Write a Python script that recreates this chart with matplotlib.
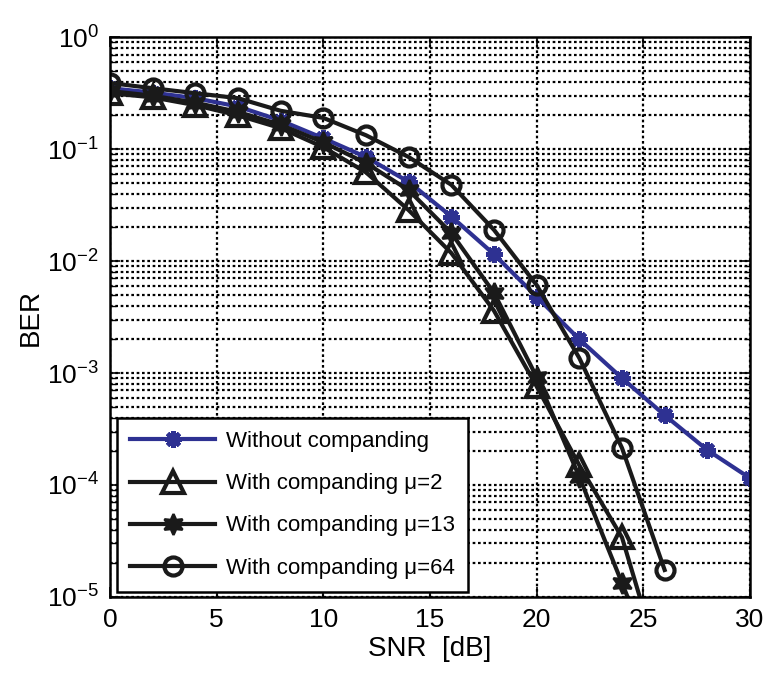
import matplotlib.pyplot as plt
from matplotlib.ticker import LogLocator, NullFormatter
import numpy as np

plt.rcParams['font.family'] = ['Liberation Sans', 'DejaVu Sans']
plt.rcParams['mathtext.default'] = 'regular'
plt.rcParams['axes.unicode_minus'] = False
plt.rcParams['font.size'] = 18

# SNR points (dB)
snr = [0, 2, 4, 6, 8, 10, 12, 14, 16, 18, 20, 22, 24, 26, 28, 30]
snr_mu = [0, 2, 4, 6, 8, 10, 12, 14, 16, 18, 20, 22, 24, 26]

# BER values
ber_none = [0.35, 0.32, 0.285, 0.24, 0.18, 0.125, 0.085, 0.051, 0.025, 0.0115,
            0.0048, 0.0020, 9.0e-4, 4.2e-4, 2.05e-4, 1.15e-4]
ber_mu2 = [0.316, 0.29, 0.247, 0.20, 0.154, 0.104, 0.062, 0.0285, 0.0118, 0.0036,
           7.6e-4, 1.5e-4, 3.4e-5, 1.8e-6]
ber_mu13 = [0.33, 0.30, 0.26, 0.215, 0.165, 0.115, 0.075, 0.043, 0.0178, 0.0052,
            9.2e-4, 1.18e-4, 1.33e-5, 1.5e-6]
ber_mu64 = [0.39, 0.35, 0.316, 0.285, 0.22, 0.19, 0.133, 0.085, 0.048, 0.019,
            0.0061, 0.00136, 2.14e-4, 1.74e-5]

fig = plt.figure(figsize=(7.66, 6.76), dpi=100)
ax = fig.add_axes([0.1436, 0.117, 0.8355, 0.828])

blue = '#2E3192'
dark = '#1a1a1a'
ax.semilogy(snr, ber_none, color=blue, lw=3, marker=(8, 2, 0), ms=12, mew=3.2,
            label='Without companding')
ax.semilogy(snr_mu, ber_mu2, color=dark, lw=3, marker='^', ms=16, mew=3,
            mfc='none', label='With companding \u03bc=2')
ax.semilogy(snr_mu, ber_mu13, color=dark, lw=3, marker=(6, 1, 0), ms=15, mew=1.8,
            mfc=dark, label='With companding \u03bc=13')
ax.semilogy(snr_mu, ber_mu64, color=dark, lw=3, marker='o', ms=13, mew=3,
            mfc='none', label='With companding \u03bc=64')

ax.set_xlim(0, 30)
ax.set_ylim(1e-5, 1)
ax.set_xticks([0, 5, 10, 15, 20, 25, 30])
ax.yaxis.set_major_locator(LogLocator(base=10, numticks=10))
ax.yaxis.set_minor_locator(LogLocator(base=10, subs=np.arange(2, 10), numticks=20))
ax.yaxis.set_minor_formatter(NullFormatter())

ax.grid(True, which='major', color='black', linestyle=(0, (1.2, 1.2)), linewidth=1.6)
ax.grid(True, which='minor', axis='y', color='black', linestyle=(0, (1.2, 1.2)), linewidth=1.6)
ax.tick_params(which='both', direction='in', top=True, right=True)
ax.tick_params(which='major', length=7, width=1.2, labelsize=19, pad=8)
ax.tick_params(which='minor', length=4, width=1)
for s in ax.spines.values():
    s.set_linewidth(1.8)

ax.set_xlabel('SNR  [dB]', fontsize=20, labelpad=3)
ax.set_ylabel('BER', fontsize=20, labelpad=2)

leg = ax.legend(loc='lower left', bbox_to_anchor=(0.011, 0.009), borderaxespad=0,
                fontsize=16, handlelength=3.8, handletextpad=0.5, labelspacing=0.95,
                fancybox=False, framealpha=1, edgecolor='black', borderpad=0.6)
leg.get_frame().set_linewidth(1.8)

plt.savefig('out.png', dpi=100)
